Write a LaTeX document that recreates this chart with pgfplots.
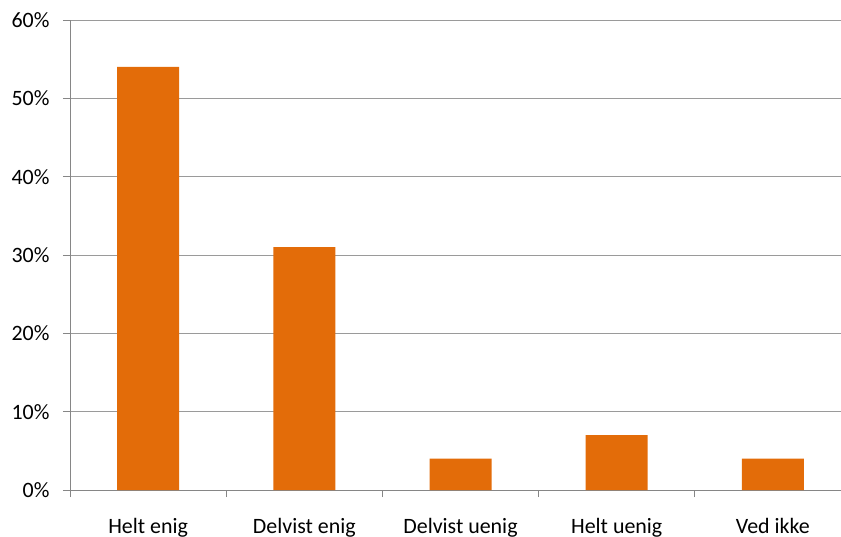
\documentclass[border=0pt]{standalone}
\usepackage{fontspec}
\setmainfont{Carlito}
\usepackage{pgfplots}
\pgfplotsset{compat=1.18}
\definecolor{barorange}{HTML}{E36C09}
\definecolor{gridgray}{HTML}{9A9A9A}
\definecolor{axisgray}{HTML}{868686}

\begin{document}
\fontsize{22}{26}\selectfont
\begin{tikzpicture}
\begin{axis}[
    scale only axis,
    width=781bp, height=470bp,
    xmin=-0.5, xmax=4.5,
    ymin=0, ymax=60,
    axis lines=left,
    axis line style={-, axisgray, line width=0.9bp},
    ymajorgrids,
    grid style={gridgray, line width=0.9bp},
    ytick={0,10,...,60},
    yticklabel={\pgfmathprintnumber{\tick}\%},
    /pgf/number format/assume math mode=true,
    xtick={0,1,2,3,4},
    xticklabels={Helt enig, Delvist enig, Delvist uenig, Helt uenig, Ved ikke},
    minor xtick={-0.5,0.5,...,4.5},
    tick align=outside,
    major tick length=7bp,
    minor tick length=7bp,
    xtick style={draw=none},
    minor x tick style={draw=axisgray, line width=0.9bp},
    ytick style={draw=axisgray, line width=0.9bp},
    xticklabel style={yshift=-14bp},
    yticklabel style={xshift=-6bp},
    tick label style={font=\fontsize{22}{26}\selectfont},
]
\addplot[ybar, bar width=62bp, fill=barorange, draw=none] coordinates {
    (0,54) (1,31) (2,4) (3,7) (4,4)
};
\end{axis}
\pgfresetboundingbox
\useasboundingbox (-70bp,-47bp) rectangle (771bp,490bp);
\end{tikzpicture}
\end{document}
